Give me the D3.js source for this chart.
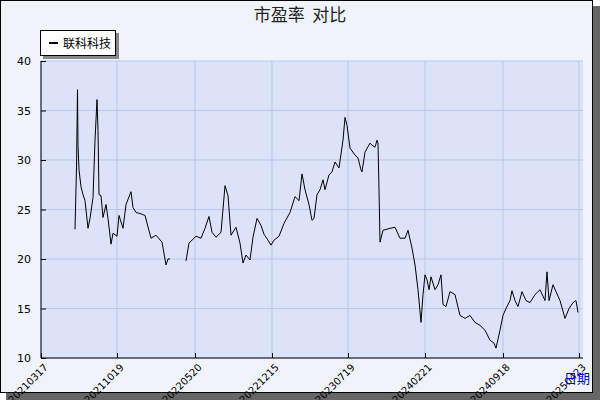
<!DOCTYPE html>
<html><head><meta charset="utf-8">
<script src="https://cdn.jsdelivr.net/npm/d3@7"></script>
<style>body{margin:0;background:#fff;font-family:"Noto Sans CJK SC",sans-serif}</style>
</head><body>
<script>
// trading-day index (approx) and PE value
var tickIndex = [0, 152, 308, 462, 614, 768, 924, 1076];
var tickLabels = ["20210317", "20211019", "20220520", "20221215", "20230719", "20240221", "20240918", "20250423"];
var dayIndex = [68,71,73,74,76,80,84,88,94,98,104,108,112,114,116,120,124,130,134,140,144,152,156,164,170,180,184,190,198,208,220,230,242,250,254,258,
  null,
  290,296,304,310,320,328,336,342,350,360,368,374,380,390,398,404,410,
  418,424,432,440,446,454,460,466,476,486,498,508,516,522,528,536,542,546,552,558,564,568,576,582,588,596,604,608,612,618,628,634,640,642,648,658,662,668,672,674,676,678,684,698,708,718,728,734,742,748,754,760,764,768,772,
  776,780,788,794,800,804,810,818,828,838,848,858,868,878,888,898,906,910,918,924,930,938,942,948,954,962,970,978,988,998,1008,1012,1016,1024,1030,1038,1048,1056,1064,1070,1074];
var peValue = [23.0,29.2,37.1,31.5,29.0,27.3,26.5,25.9,23.1,24.1,26.2,32.0,36.1,33.0,26.5,26.4,24.2,25.5,24.1,21.5,22.6,22.3,24.4,23.1,25.5,26.8,25.2,24.7,24.6,24.4,22.1,22.4,21.7,19.4,20.0,20.0,
  null,
  19.8,21.6,22.0,22.3,22.1,23.1,24.3,22.7,22.2,22.7,27.4,26.4,22.4,23.2,21.6,19.6,20.4,
  19.9,22.2,24.1,23.4,22.5,21.9,21.4,21.9,22.3,23.6,24.7,26.3,25.9,28.6,27.0,25.5,23.9,24.1,26.5,27.0,28.0,27.0,28.5,28.8,29.8,29.2,32.0,34.3,33.5,31.2,30.5,30.2,29.0,28.8,30.8,31.7,31.5,31.3,32.0,31.7,27.0,21.7,22.9,23.1,23.2,22.1,22.1,22.9,21.1,19.4,16.9,13.6,16.4,18.4,17.9,
  16.9,18.2,16.9,17.4,18.4,15.4,15.2,16.7,16.4,14.3,14.0,14.3,13.6,13.3,12.8,11.8,11.5,11.0,12.8,14.3,15.0,15.8,16.8,15.8,15.2,16.7,15.8,15.6,16.4,16.9,15.8,18.7,15.8,17.4,16.7,15.8,14.0,15.0,15.6,15.8,14.6];
var yTicks = [10, 15, 20, 25, 30, 35, 40];
var seriesName = "联科科技";

var W = 600, H = 400;
var svg = d3.select("body").append("svg").attr("width", W).attr("height", H);
// frame with shadow
svg.append("rect").attr("x", 6).attr("y", 6).attr("width", 594).attr("height", 394).attr("fill", "#666");
svg.append("rect").attr("x", 0.5).attr("y", 0.5).attr("width", 592).attr("height", 392)
  .attr("fill", "#f1f3fb").attr("stroke", "#000");

var m = {l: 41, r: 583, t: 61, b: 358};
var x = d3.scaleLinear().domain([0, 1084]).range([m.l, m.r]);
var y = d3.scaleLinear().domain([10, 40]).range([m.b, m.t]);

svg.append("rect").attr("x", m.l).attr("y", m.t).attr("width", m.r - m.l).attr("height", m.b - m.t).attr("fill", "#dce2f7");
var g = svg.append("g");
g.selectAll(".gy").data(yTicks).enter().append("line")
  .attr("x1", m.l).attr("x2", m.r).attr("y1", d => y(d)).attr("y2", d => y(d))
  .attr("stroke", "#b9c7ea").attr("stroke-width", 1);
g.selectAll(".gx").data(tickIndex).enter().append("line")
  .attr("x1", d => x(d)).attr("x2", d => x(d)).attr("y1", m.t).attr("y2", m.b)
  .attr("stroke", "#b9c7ea").attr("stroke-width", 1);

// axes
svg.append("g").attr("transform", "translate(" + m.l + ",0)")
  .call(d3.axisLeft(y).tickValues(yTicks).tickSize(-5).tickPadding(10))
  .call(a => a.select(".domain").attr("d", "M0," + m.t + "V" + m.b))
  .selectAll("text").attr("font-size", 11).attr("font-family", "DejaVu Sans").attr("fill", "#000");
var xa = svg.append("g").attr("transform", "translate(0," + m.b + ")")
  .call(d3.axisBottom(x).tickValues(tickIndex).tickFormat((d, i) => tickLabels[i]).tickSize(-5))
  .call(a => a.select(".domain").attr("d", "M" + m.l + ",0H" + m.r));
xa.selectAll("text").attr("font-size", 10).attr("font-family", "DejaVu Sans").attr("fill", "#000")
  .attr("text-anchor", "end").attr("transform", "rotate(-45)").attr("dx", "-0.2em").attr("dy", "0.9em");

// line
var pts = dayIndex.map((d, i) => [d, peValue[i]]);
svg.append("path").datum(pts)
  .attr("d", d3.line().defined(d => d[0] !== null).x(d => x(d[0])).y(d => y(d[1])))
  .attr("fill", "none").attr("stroke", "#000").attr("stroke-width", 1);

// title
svg.append("text").attr("x", 300).attr("y", 21).attr("text-anchor", "middle")
  .attr("font-size", 17).attr("fill", "#222").style("white-space", "pre").text("市盈率  对比");
// legend
svg.append("rect").attr("x", 43).attr("y", 33).attr("width", 76).attr("height", 26).attr("fill", "#888");
svg.append("rect").attr("x", 40.5).attr("y", 30.5).attr("width", 75).attr("height", 25).attr("fill", "#fff").attr("stroke", "#000");
svg.append("line").attr("x1", 49).attr("x2", 58).attr("y1", 43).attr("y2", 43).attr("stroke", "#000").attr("stroke-width", 2);
svg.append("text").attr("x", 63).attr("y", 48).attr("font-size", 12).text(seriesName);
// axis title
svg.append("text").attr("x", 577).attr("y", 383).attr("text-anchor", "middle")
  .attr("font-size", 13).attr("fill", "#0000cc").text("日期");
</script>
</body></html>
